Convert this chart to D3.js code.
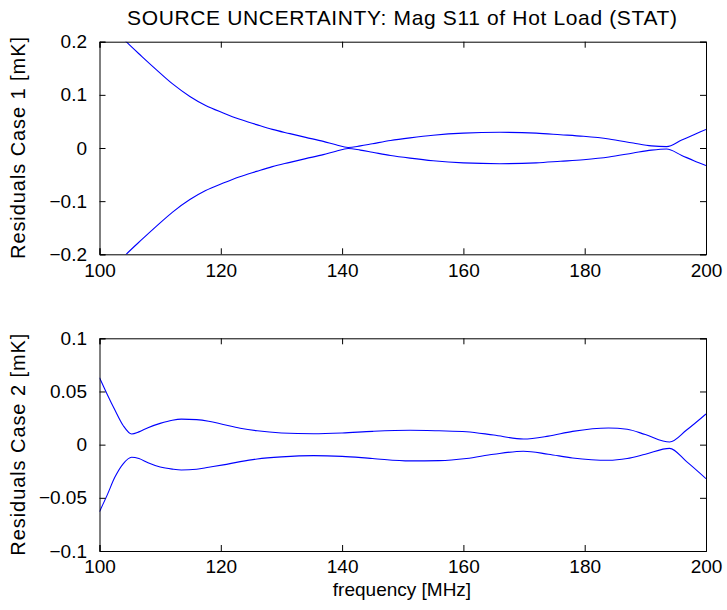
<!DOCTYPE html>
<html><head><meta charset="utf-8">
<script src="https://cdn.jsdelivr.net/npm/d3@7"></script>
<style>body{margin:0;background:#fff}text{font-family:"Liberation Sans",Arial,sans-serif;fill:#000}</style>
</head><body><svg id="c" width="727" height="610"></svg>
<script>
// ---- data ----
const xTicks = [100,120,140,160,180,200];
const yTicks1 = [-0.2,-0.1,0,0.1,0.2];
const yTicks2 = [-0.1,-0.05,0,0.05,0.1];
const yTickLabels1 = ["\u22120.2","\u22120.1","0","0.1","0.2"];
const yTickLabels2 = ["\u22120.1","\u22120.05","0","0.05","0.1"];

const freq1 = [100,102,104.4,107,109.4,112,114.9,117.5,120.4,123,125.9,128.5,131.4,134,136.9,139,141,143,145,148,151.2,155,160,166,172,176,179.8,184,188,191,193.5,196,198,200];
const upper1 = [0.26,0.229,0.2,0.172,0.147,0.121,0.097,0.08,0.066,0.0545,0.044,0.035,0.027,0.02,0.0125,0.006,0.001,0.004,0.008,0.014,0.019,0.024,0.028,0.0295,0.028,0.025,0.022,0.017,0.0094,0.004,0.0025,0.015,0.025,0.035];
const lower1 = [-0.26,-0.229,-0.2,-0.172,-0.147,-0.121,-0.097,-0.08,-0.066,-0.0545,-0.044,-0.035,-0.027,-0.02,-0.0125,-0.006,-0.001,-0.004,-0.008,-0.014,-0.019,-0.024,-0.028,-0.0295,-0.028,-0.025,-0.022,-0.017,-0.0094,-0.004,-0.0019,-0.014,-0.024,-0.033];

const freq2 = [100,101.3,102.5,103.9,105.3,106.5,108,110,112,113.5,116,118,120.4,123.2,126,130,135.3,140,145,151.2,156,160.5,165,169.9,174,178,183.9,187,190,194,196.8,200];
const upper2 = [0.063,0.047,0.033,0.018,0.010,0.012,0.016,0.020,0.023,0.024,0.0235,0.022,0.019,0.0155,0.013,0.011,0.0103,0.011,0.0125,0.0135,0.013,0.0122,0.009,0.0053,0.008,0.0125,0.0157,0.0145,0.0095,0.0025,0.0138,0.0289];
const lower2 = [-0.063,-0.047,-0.031,-0.018,-0.0118,-0.013,-0.017,-0.021,-0.023,-0.0238,-0.0232,-0.0213,-0.019,-0.016,-0.0135,-0.0115,-0.0103,-0.011,-0.013,-0.0153,-0.015,-0.013,-0.009,-0.0062,-0.009,-0.0125,-0.0147,-0.013,-0.009,-0.0035,-0.016,-0.032];

const FONT = "Liberation Sans, Arial, sans-serif";
const svg = d3.select("#c");
const L = 99.5, R = 706;
const x = d3.scaleLinear().domain([100,200]).range([L,R]);

function panel(top, bottom, yDom, yT, yTL, freq, up, lo, ylabel, id){
  const y = d3.scaleLinear().domain(yDom).range([bottom, top]);
  const g = svg.append("g");
  g.append("clipPath").attr("id",id).append("rect").attr("x",L).attr("y",top).attr("width",R-L).attr("height",bottom-top);
  const line = d3.line().x((d,i)=>x(freq[i])).y(d=>y(d)).curve(d3.curveMonotoneX);
  [up,lo].forEach(s=>{
    g.append("path").datum(s).attr("d",line).attr("fill","none").attr("stroke","#0000ff").attr("stroke-width",1.1).attr("clip-path",`url(#${id})`);
  });
  const ax = d3.axisBottom(x).tickValues(xTicks).tickSize(-6).tickPadding(9).tickFormat(d3.format("d"));
  const axT = d3.axisTop(x).tickValues(xTicks).tickSize(-6).tickFormat("");
  const ay = d3.axisLeft(y).tickValues(yT).tickSize(-6).tickPadding(12.5).tickFormat((d,i)=>yTL[i]);
  const ayR = d3.axisRight(y).tickValues(yT).tickSize(-6).tickFormat("");
  const gb = g.append("g").attr("transform",`translate(0,${bottom})`).call(ax);
  const gt = g.append("g").attr("transform",`translate(0,${top})`).call(axT);
  const gl = g.append("g").attr("transform",`translate(${L},0)`).call(ay);
  const gr = g.append("g").attr("transform",`translate(${R},0)`).call(ayR);
  [gb,gt,gl,gr].forEach(a=>{
    a.select(".domain").attr("stroke","#000").attr("stroke-width",1);
    a.selectAll(".tick line").attr("stroke","#000");
    a.selectAll("text").style("font-family",FONT).style("font-size","19px").attr("fill","#000");
  });
  gb.selectAll("text").attr("dy","0.71em");
  g.append("text").attr("transform",`translate(25,${(top+bottom)/2}) rotate(-90)`)
    .attr("text-anchor","middle").style("font-size","20px")
    .attr("textLength",222).attr("lengthAdjust","spacing").text(ylabel);
}

panel(41.7, 254.3, [-0.2,0.2], yTicks1, yTickLabels1, freq1, upper1, lower1, "Residuals Case 1 [mK]", "cp1");
panel(338.3, 551, [-0.1,0.1], yTicks2, yTickLabels2, freq2, upper2, lower2, "Residuals Case 2 [mK]", "cp2");

svg.append("text").attr("x",402).attr("y",25).attr("text-anchor","middle").style("font-size","21px")
  .attr("textLength",550).attr("lengthAdjust","spacing")
  .text("SOURCE UNCERTAINTY: Mag S11 of Hot Load (STAT)");
svg.append("text").attr("x",402).attr("y",596).attr("text-anchor","middle").style("font-size","19px")
  .text("frequency [MHz]");
</script></body></html>
